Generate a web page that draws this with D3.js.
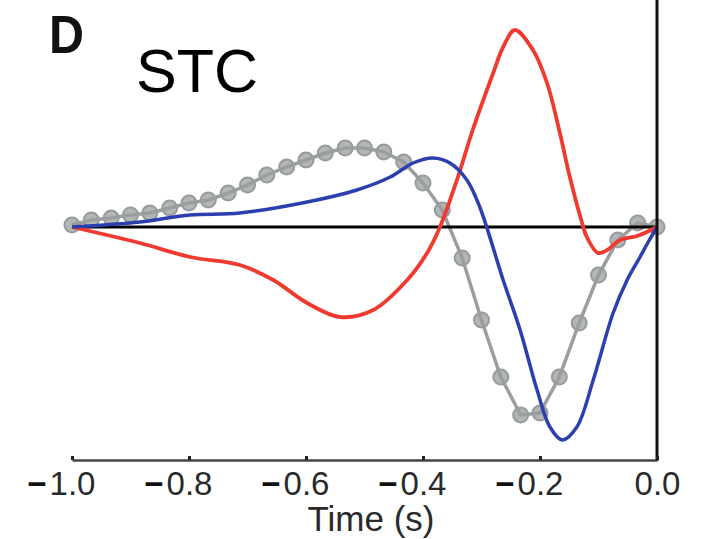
<!DOCTYPE html>
<html>
<head>
<meta charset="utf-8">
<script src="https://cdn.jsdelivr.net/npm/d3@7"></script>
<style>
  body { margin: 0; background: #fff; }
  svg { display: block; font-family: "Liberation Sans", Arial, Helvetica, sans-serif; }
</style>
</head>
<body>
<svg id="chart"></svg>
<script>
// red filter (arbitrary units), time in s
const redT = [-1.0, -0.884, -0.798, -0.713, -0.656, -0.598, -0.542, -0.485, -0.427, -0.393, -0.371, -0.342, -0.315, -0.280, -0.263, -0.243, -0.212, -0.188, -0.166, -0.149, -0.128, -0.120, -0.101, -0.085, -0.063, -0.034, 0.0];
const redV = [0, -0.16, -0.30, -0.38, -0.53, -0.76, -0.90, -0.83, -0.53, -0.26, 0, 0.47, 0.97, 1.54, 1.80, 1.97, 1.77, 1.44, 0.94, 0.50, 0.04, -0.10, -0.26, -0.23, -0.13, -0.09, 0];

// blue filter
const blueT = [-1.0, -0.884, -0.798, -0.713, -0.598, -0.513, -0.456, -0.417, -0.383, -0.354, -0.325, -0.303, -0.263, -0.234, -0.205, -0.183, -0.162, -0.137, -0.109, -0.075, -0.051, -0.029, -0.014, 0.0];
const blueV = [0, 0.05, 0.12, 0.14, 0.25, 0.37, 0.50, 0.64, 0.69, 0.64, 0.47, 0.20, -0.53, -1.03, -1.63, -2.00, -2.13, -2.00, -1.53, -0.86, -0.53, -0.30, -0.14, 0];

// STC samples (grey markers)
const stcT = [-1.000, -0.967, -0.933, -0.900, -0.867, -0.833, -0.800, -0.767, -0.733, -0.700, -0.667, -0.633, -0.600, -0.567, -0.533, -0.500, -0.467, -0.433, -0.400, -0.367, -0.333, -0.300, -0.267, -0.233, -0.200, -0.167, -0.133, -0.100, -0.067, -0.033, 0.000];
const stcV = [0.02, 0.07, 0.09, 0.12, 0.14, 0.19, 0.24, 0.27, 0.34, 0.42, 0.52, 0.60, 0.67, 0.74, 0.79, 0.79, 0.75, 0.65, 0.44, 0.17, -0.31, -0.93, -1.50, -1.88, -1.86, -1.50, -0.96, -0.48, -0.13, 0.04, 0];

const xTicks = [-1.0, -0.8, -0.6, -0.4, -0.2, 0.0];

const width = 703, height = 539;
const svg = d3.select("#chart").attr("width", width).attr("height", height);

const x = d3.scaleLinear().domain([-1, 0]).range([72, 657]);
const y = d3.scaleLinear().domain([-2.33, 2.27]).range([460, 0]);

const zip = (t, v) => t.map((d, i) => [d, v[i]]);

// grey STC
const stc = zip(stcT, stcV);
svg.append("g").selectAll("circle").data(stc).join("circle")
  .attr("cx", d => x(d[0])).attr("cy", d => y(d[1])).attr("r", 7.5)
  .attr("fill", "#b3b6b6").attr("stroke", "#979b9b").attr("stroke-width", 2);
svg.append("path").datum(stc)
  .attr("d", d3.line().x(d => x(d[0])).y(d => y(d[1])))
  .attr("fill", "none").attr("stroke", "#9b9e9f").attr("stroke-width", 3.5);

// zero line
svg.append("line")
  .attr("x1", x(-1)).attr("x2", x(0)).attr("y1", y(0)).attr("y2", y(0))
  .attr("stroke", "#000").attr("stroke-width", 3);

const smooth = d3.line().curve(d3.curveCatmullRom.alpha(0.5)).x(d => x(d[0])).y(d => y(d[1]));
svg.append("path").datum(zip(redT, redV)).attr("d", smooth)
  .attr("fill", "none").attr("stroke", "#ef3b2f").attr("stroke-width", 3.8);
svg.append("path").datum(zip(blueT, blueV)).attr("d", smooth)
  .attr("fill", "none").attr("stroke", "#2c3fae").attr("stroke-width", 3.5);

// right axis
svg.append("line").attr("x1", x(0)).attr("x2", x(0)).attr("y1", 0).attr("y2", y.range()[0] + 1)
  .attr("stroke", "#111").attr("stroke-width", 3);

// bottom axis
const gx = svg.append("g").attr("transform", `translate(0,${y.range()[0]})`)
  .call(d3.axisBottom(x).tickValues(xTicks).tickSizeInner(-4).tickSizeOuter(0).tickPadding(12)
    .tickFormat(d => d3.format(".1f")(Math.abs(d))));
gx.select(".domain").attr("stroke", "#444").attr("stroke-width", 2.5);
gx.selectAll(".tick line").attr("stroke", "#222").attr("stroke-width", 3);
gx.selectAll(".tick text").attr("font-size", 33).attr("fill", "#2a2a2a")
  .attr("font-family", "'Liberation Sans', Arial, sans-serif");
gx.selectAll(".tick").each(function(d) {
  if (d < 0) {
    const t = d3.select(this).select("text");
    const w = t.node().getComputedTextLength();
    d3.select(this).append("text")
      .attr("x", -w / 2 - 3).attr("y", t.attr("y")).attr("dy", "0.71em")
      .attr("text-anchor", "end").attr("font-size", 33).attr("font-weight", "bold")
      .attr("fill", "#111").text("\u2212");
  }
});

svg.append("text").attr("x", 371).attr("y", 531).attr("text-anchor", "middle")
  .attr("font-size", 35).attr("fill", "#2a2a2a").text("Time (s)");

svg.append("text").attr("x", 49).attr("y", 53).attr("font-size", 54).attr("font-weight", "bold")
  .attr("textLength", 35).attr("lengthAdjust", "spacingAndGlyphs")
  .attr("fill", "#111").text("D");
svg.append("text").attr("x", 136).attr("y", 92).attr("font-size", 61)
  .attr("fill", "#000").text("STC");
</script>
</body>
</html>
